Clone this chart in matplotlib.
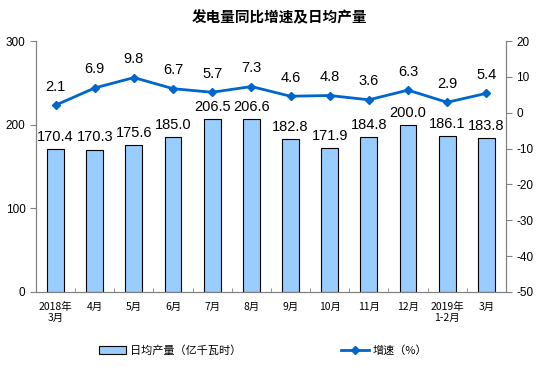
import matplotlib.pyplot as plt
import numpy as np

plt.rcParams['font.family'] = ['Noto Sans CJK SC', 'DejaVu Sans']
plt.rcParams['axes.unicode_minus'] = False

months = ["2018年\n3月", "4月", "5月", "6月", "7月", "8月", "9月", "10月", "11月", "12月", "2019年\n1-2月", "3月"]
daily_output = [170.4, 170.3, 175.6, 185.0, 206.5, 206.6, 182.8, 171.9, 184.8, 200.0, 186.1, 183.8]
growth = [2.1, 6.9, 9.8, 6.7, 5.7, 7.3, 4.6, 4.8, 3.6, 6.3, 2.9, 5.4]

x = np.arange(len(months))

fig = plt.figure(figsize=(5.59, 3.85), dpi=100)
ax = fig.add_axes([0.0644, 0.2416, 0.8406, 0.6519])
ax2 = ax.twinx()

bars = ax.bar(x, daily_output, width=0.43, color="#99CCFF", edgecolor="black", linewidth=0.8,
              label="日均产量（亿千瓦时）")
for xi, v in zip(x, daily_output):
    ax.text(xi, v + 6, f"{v:.1f}", ha="center", va="bottom", fontsize=10.5, family="Liberation Sans")

line, = ax2.plot(x, growth, color="#0066CC", linewidth=2, marker="D", markersize=4.5,
                 label="增速（%）")
for xi, v in zip(x, growth):
    ax2.text(xi, v + 3.2, f"{v:.1f}", ha="center", va="bottom", fontsize=10.5, family="Liberation Sans")

ax.set_xlim(-0.5, len(months) - 0.5)
ax.set_ylim(0, 300)
ax.set_yticks([0, 100, 200, 300])
ax2.set_ylim(-50, 20)
ax2.set_yticks(range(-50, 21, 10))

ax.set_xticks(x)
ax.set_xticklabels(months, fontsize=7.5)
ax.set_xticks(np.arange(-0.5, len(months), 1), minor=True)
ax.tick_params(axis="x", which="major", length=0, pad=7)
ax.tick_params(axis="x", which="minor", length=3, color="#808080", direction="in")
ax.tick_params(axis="y", labelsize=8.5, length=4, color="#808080")
ax2.tick_params(axis="y", labelsize=8.5, length=4, color="#808080")
for lbl in ax.get_yticklabels() + ax2.get_yticklabels():
    lbl.set_family("Liberation Sans")

for a in (ax, ax2):
    a.spines["top"].set_visible(False)
    for s in ("left", "right", "bottom"):
        a.spines[s].set_color("#808080")

fig.text(0.5, 0.955, "发电量同比增速及日均产量", ha="center", va="center", fontsize=10.5, fontweight="bold")

fig.legend([bars, line], ["日均产量（亿千瓦时）", "增速（%）"], loc="center", bbox_to_anchor=(0.47, 0.09),
           ncol=2, frameon=False, fontsize=8, columnspacing=9, handlelength=2.5, handletextpad=0.3)

plt.savefig("out.png", dpi=100)
